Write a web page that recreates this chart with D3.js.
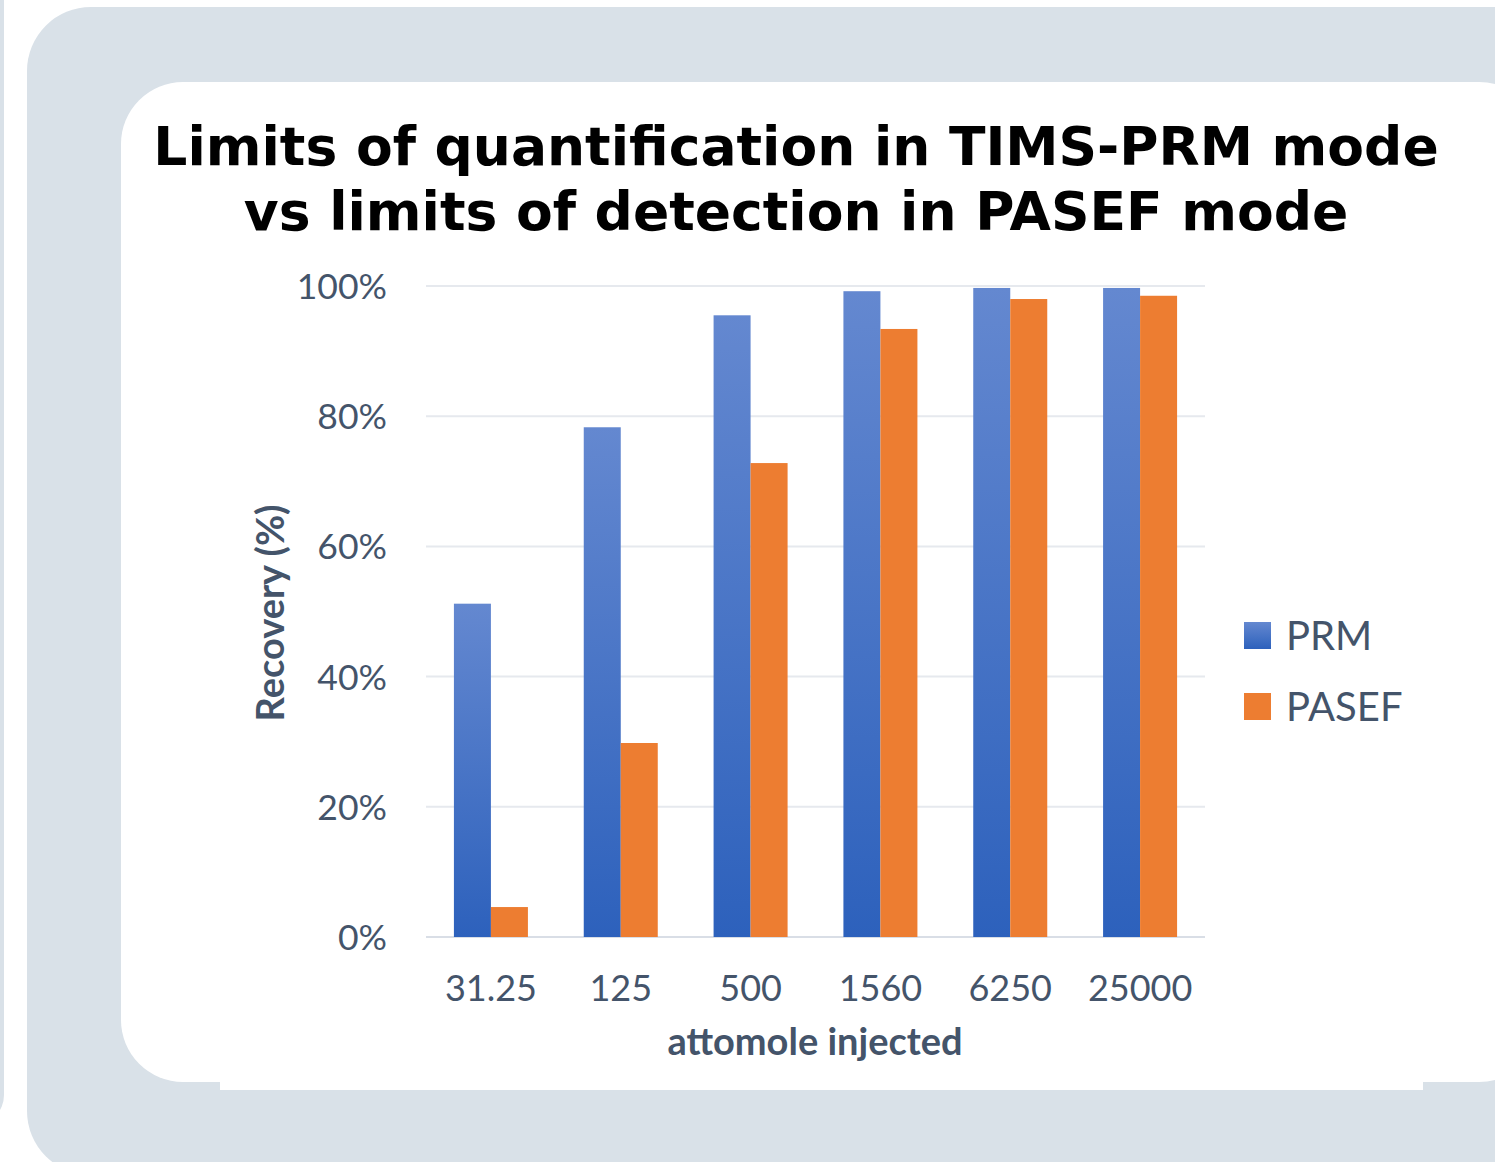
<!DOCTYPE html>
<html lang="en">
<head>
  <meta charset="utf-8">
  <title>Limits of quantification</title>
  <script src="https://d3js.org/d3.v7.min.js"></script>
  <style>
    html, body { margin: 0; padding: 0; background: #fff; }
    svg { display: block; }
    .tick text { font-family: Lato, "Open Sans", sans-serif; fill: #44546a; }
  </style>
</head>
<body>
<div id="chart"></div>
<script>
// data
var categorias = ['31.25', '125', '500', '1560', '6250', '25000'];
var prm = [51.2, 78.3, 95.5, 99.2, 99.7, 99.7];
var pasef = [4.6, 29.8, 72.8, 93.4, 98.0, 98.5];
var series = ['PRM', 'PASEF'];
var yTicks = [0, 20, 40, 60, 80, 100];

var W = 1495, H = 1162;
var svg = d3.select('#chart').append('svg')
  .attr('width', W).attr('height', H);

// gradient for the blue bars
var defs = svg.append('defs');
var grad = defs.append('linearGradient').attr('id', 'azul')
  .attr('x1', 0).attr('y1', 0).attr('x2', 0).attr('y2', 1);
grad.append('stop').attr('offset', '0%').attr('stop-color', '#6488d0');
grad.append('stop').attr('offset', '100%').attr('stop-color', '#2d61bc');

var cores = { PRM: 'url(#azul)', PASEF: '#ed7d31' };

// backgrounds
var fundo = '#d9e1e8';
svg.append('rect').attr('x', -60).attr('y', -60).attr('width', 64).attr('height', 1185)
  .attr('rx', 30).attr('fill', fundo);
svg.append('rect').attr('x', 27).attr('y', 7).attr('width', 1600).attr('height', 1168)
  .attr('rx', 64).attr('fill', fundo);
svg.append('rect').attr('x', 121).attr('y', 82).attr('width', 1420).attr('height', 1000)
  .attr('rx', 62).attr('fill', '#fff');
svg.append('rect').attr('x', 220).attr('y', 1070).attr('width', 1203).attr('height', 20)
  .attr('fill', '#fff');

// title
var titulo = svg.append('text')
  .attr('text-anchor', 'middle')
  .attr('font-family', '"DejaVu Sans", Verdana, sans-serif')
  .attr('font-weight', 'bold')
  .attr('font-size', 53.5)
  .attr('fill', '#000');
titulo.append('tspan').attr('x', 796).attr('y', 165).text('Limits of quantification in TIMS-PRM mode');
titulo.append('tspan').attr('x', 796).attr('y', 230).text('vs limits of detection in PASEF mode');

var margin = { left: 426, top: 286, right: W - 1205, bottom: H - 937 };
var larguraVis = W - margin.left - margin.right;
var alturaVis = H - margin.top - margin.bottom;

var g = svg.append('g').attr('transform', 'translate(' + margin.left + ',' + margin.top + ')');

var x = d3.scaleBand().domain(categorias).range([0, larguraVis])
  .paddingInner(0.43).paddingOuter(0.215);
var xs = d3.scaleBand().domain(series).range([0, x.bandwidth()]);
var y = d3.scaleLinear().domain([0, 100]).range([alturaVis, 0]);

// gridlines
g.selectAll('.grid').data(yTicks).enter().append('line')
  .attr('x1', 0).attr('x2', larguraVis)
  .attr('y1', function(d) { return y(d); }).attr('y2', function(d) { return y(d); })
  .attr('stroke', function(d) { return d === 0 ? '#d9dee6' : '#e6e9ee'; })
  .attr('stroke-width', 2);

// bars
var dados = categorias.map(function(c, i) {
  return { cat: c, valores: [{ s: 'PRM', v: prm[i] }, { s: 'PASEF', v: pasef[i] }] };
});
var grupos = g.selectAll('.grupo').data(dados).enter().append('g')
  .attr('transform', function(d) { return 'translate(' + x(d.cat) + ',0)'; });
grupos.selectAll('rect').data(function(d) { return d.valores; }).enter().append('rect')
  .attr('x', function(d) { return xs(d.s); })
  .attr('width', xs.bandwidth())
  .attr('y', function(d) { return y(d.v); })
  .attr('height', function(d) { return alturaVis - y(d.v); })
  .attr('fill', function(d) { return cores[d.s]; });

// axes
var eixoY = g.append('g')
  .call(d3.axisLeft(y).tickValues(yTicks).tickSize(0).tickPadding(39)
    .tickFormat(function(d) { return d + '%'; }));
eixoY.select('.domain').remove();
eixoY.selectAll('text').attr('font-size', 35.5).attr('dy', '0.35em');

var eixoX = g.append('g').attr('transform', 'translate(0,' + alturaVis + ')')
  .call(d3.axisBottom(x).tickSize(0).tickPadding(38));
eixoX.select('.domain').remove();
eixoX.selectAll('text').attr('font-size', 36);

// axis titles
svg.append('text')
  .attr('transform', 'translate(284,613) rotate(-90)')
  .attr('text-anchor', 'middle')
  .attr('font-family', 'Lato, "Open Sans", sans-serif')
  .attr('font-weight', 'bold').attr('font-size', 38).attr('fill', '#44546a')
  .text('Recovery (%)');
svg.append('text')
  .attr('x', 815).attr('y', 1055)
  .attr('text-anchor', 'middle')
  .attr('font-family', 'Lato, "Open Sans", sans-serif')
  .attr('font-weight', 'bold').attr('font-size', 38).attr('fill', '#44546a')
  .text('attomole injected');

// legend
var legenda = svg.append('g').attr('transform', 'translate(1244,622)');
var itens = legenda.selectAll('g').data(series).enter().append('g')
  .attr('transform', function(d, i) { return 'translate(0,' + (i * 71) + ')'; });
itens.append('rect').attr('width', 27).attr('height', 27)
  .attr('fill', function(d) { return cores[d]; });
itens.append('text').attr('x', 42).attr('y', 28)
  .attr('font-family', 'Lato, "Open Sans", sans-serif')
  .attr('font-size', 40).attr('fill', '#44546a')
  .text(function(d) { return d; });
</script>
</body>
</html>
